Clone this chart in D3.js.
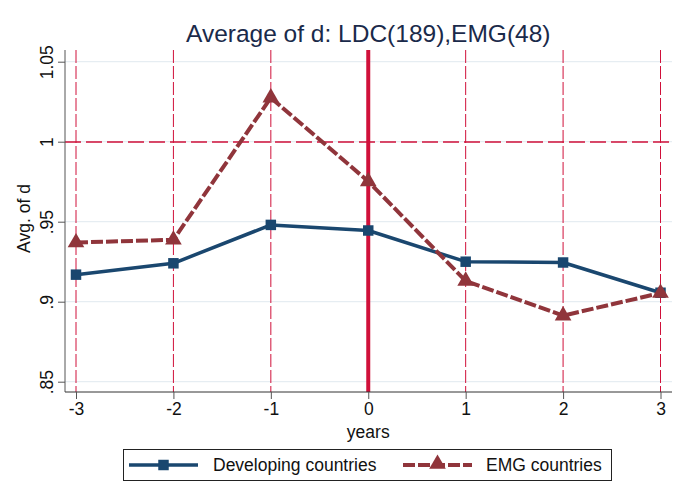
<!DOCTYPE html>
<html>
<head>
<meta charset="utf-8">
<script src="https://cdn.jsdelivr.net/npm/d3@7"></script>
<style>
  body { margin: 0; background: #fff; }
  svg { font-family: "Liberation Sans", Arial, sans-serif; }
</style>
</head>
<body>
<div id="chart"></div>
<script>
const years = [-3, -2, -1, 0, 1, 2, 3];
const developing = [0.9169, 0.9240, 0.9480, 0.9445, 0.9250, 0.9245, 0.9056];
const emg = [0.9370, 0.9387, 1.0275, 0.9752, 0.9130, 0.8913, 0.9054];
const yTicks = [0.85, 0.9, 0.95, 1, 1.05];
const yTickLabels = [".85", ".9", ".95", "1", "1.05"];
const seriesNames = ["Developing countries", "EMG countries"];

const width = 681, height = 482;
const navy = "#1a476f", maroon = "#90353b", red = "#d0103a";
const fs = 17.5;

const svg = d3.select("#chart").append("svg")
  .attr("width", width)
  .attr("height", height);

const x = d3.scaleLinear().domain([-3, 3]).range([76, 660.5]);
const y = d3.scaleLinear().domain([0.85, 1.05]).range([381.7, 61.7]);
const plotTop = 50, plotBottom = 392, plotLeft = 65, plotRight = 672;

// gridlines
svg.append("g")
  .selectAll("line")
  .data(yTicks)
  .join("line")
  .attr("x1", plotLeft).attr("x2", plotRight)
  .attr("y1", d => y(d)).attr("y2", d => y(d))
  .attr("stroke", "#e6edf2")
  .attr("stroke-width", 1.2);

// vertical reference lines
svg.append("g")
  .selectAll("line")
  .data(years.filter(d => d !== 0))
  .join("line")
  .attr("x1", d => x(d)).attr("x2", d => x(d))
  .attr("y1", plotTop).attr("y2", plotBottom)
  .attr("stroke", red)
  .attr("stroke-width", 1)
  .attr("stroke-dasharray", "13,3");

// horizontal line at 1
svg.append("line")
  .attr("x1", plotLeft).attr("x2", plotRight)
  .attr("y1", Math.round(y(1))).attr("y2", Math.round(y(1)))
  .attr("stroke", red)
  .attr("stroke-width", 1.6)
  .attr("stroke-dasharray", "16,5");

// thick line at 0
svg.append("line")
  .attr("x1", x(0)).attr("x2", x(0))
  .attr("y1", plotTop).attr("y2", plotBottom)
  .attr("stroke", red)
  .attr("stroke-width", 4);

// axes
const yAxis = svg.append("g")
  .attr("transform", `translate(${plotLeft},0)`)
  .call(d3.axisLeft(y).tickValues(yTicks).tickSize(7)
    .tickFormat((d, i) => yTickLabels[i]));
yAxis.select(".domain").attr("d", `M0,${plotTop}V${plotBottom}`).attr("stroke", "#555");
yAxis.selectAll(".tick line").attr("stroke", "#555");
yAxis.selectAll(".tick text")
  .attr("font-size", fs)
  .attr("fill", "#111")
  .attr("font-family", "Liberation Sans, Arial, sans-serif")
  .attr("transform", "rotate(-90)")
  .attr("x", 0)
  .attr("y", -12)
  .attr("dy", 0)
  .attr("text-anchor", "middle");

const xAxis = svg.append("g")
  .attr("transform", `translate(0,${plotBottom})`)
  .call(d3.axisBottom(x).tickValues(years).tickSize(7).tickFormat(d => String(d)));
xAxis.select(".domain").attr("d", `M${plotLeft},0H${plotRight}`).attr("stroke", "#333");
xAxis.selectAll(".tick line").attr("stroke", "#555");
xAxis.selectAll(".tick text")
  .attr("font-size", fs)
  .attr("fill", "#111")
  .attr("font-family", "Liberation Sans, Arial, sans-serif")
  .attr("y", 11);

// axis titles
svg.append("text")
  .attr("x", x(0)).attr("y", 438)
  .attr("text-anchor", "middle")
  .attr("font-size", fs).attr("fill", "#111")
  .text("years");
svg.append("text")
  .attr("transform", `translate(30,${y(0.952)}) rotate(-90)`)
  .attr("text-anchor", "middle")
  .attr("font-size", fs).attr("fill", "#111")
  .text("Avg. of d");

// title
svg.append("text")
  .attr("x", x(0)).attr("y", 42)
  .attr("text-anchor", "middle")
  .attr("font-size", 24.5).attr("fill", "#1a2a4a")
  .text("Average of d: LDC(189),EMG(48)");

// series
const line = d3.line().x((d, i) => x(years[i])).y(d => y(d));

svg.append("path")
  .datum(developing)
  .attr("d", line)
  .attr("fill", "none")
  .attr("stroke", navy)
  .attr("stroke-width", 3.5)
  .attr("stroke-linejoin", "round");

svg.append("path")
  .datum(emg)
  .attr("d", line)
  .attr("fill", "none")
  .attr("stroke", maroon)
  .attr("stroke-width", 4)
  .attr("stroke-dasharray", "12,3");

const square = d3.symbol().type(d3.symbolSquare).size(110);
const triangle = d3.symbol().type(d3.symbolTriangle).size(120);

svg.append("g")
  .selectAll("path")
  .data(developing)
  .join("path")
  .attr("d", square)
  .attr("transform", (d, i) => `translate(${x(years[i])},${y(d)})`)
  .attr("fill", navy);

svg.append("g")
  .selectAll("path")
  .data(emg)
  .join("path")
  .attr("d", triangle)
  .attr("transform", (d, i) => `translate(${x(years[i])},${y(d)})`)
  .attr("fill", maroon);

// legend
const legend = svg.append("g");
legend.append("rect")
  .attr("x", 123.5).attr("y", 449.5)
  .attr("width", 488).attr("height", 31)
  .attr("fill", "#fff")
  .attr("stroke", "#222")
  .attr("stroke-width", 1);

legend.append("line")
  .attr("x1", 129).attr("x2", 198).attr("y1", 465).attr("y2", 465)
  .attr("stroke", navy).attr("stroke-width", 3.5);
legend.append("path")
  .attr("d", square)
  .attr("transform", "translate(163.5,465)")
  .attr("fill", navy);
legend.append("text")
  .attr("x", 213).attr("y", 471)
  .attr("font-size", fs).attr("fill", "#111")
  .text(seriesNames[0]);

legend.append("line")
  .attr("x1", 403).attr("x2", 472).attr("y1", 465).attr("y2", 465)
  .attr("stroke", maroon).attr("stroke-width", 4)
  .attr("stroke-dasharray", "12,3");
legend.append("path")
  .attr("d", triangle)
  .attr("transform", "translate(437.5,464)")
  .attr("fill", maroon);
legend.append("text")
  .attr("x", 486).attr("y", 471)
  .attr("font-size", fs).attr("fill", "#111")
  .text(seriesNames[1]);
</script>
</body>
</html>
